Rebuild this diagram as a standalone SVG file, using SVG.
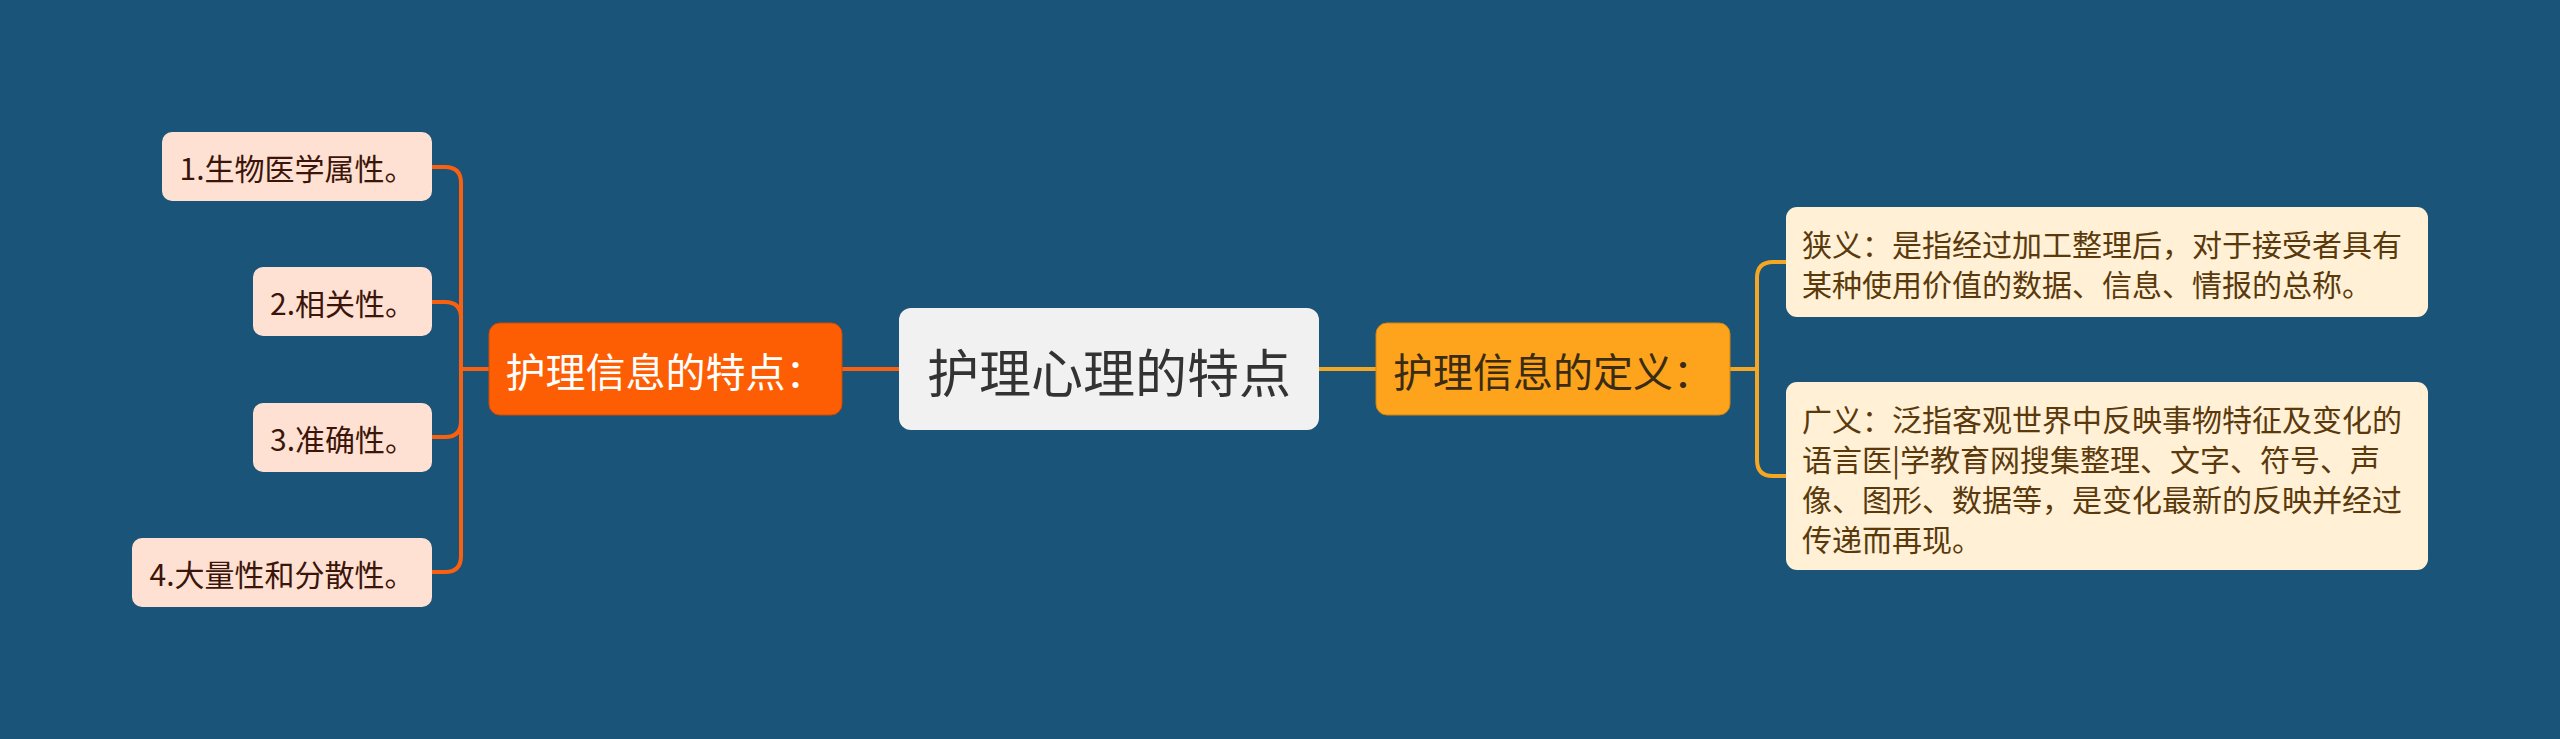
<svg xmlns="http://www.w3.org/2000/svg" width="2560" height="739" viewBox="0 0 2560 739">
<style>
text{font-family:"Noto Sans CJK SC","Noto Sans",sans-serif;dominant-baseline:central}
.leafL{fill:#ffe1d3}
.leafR{fill:#fff0d6}
.tL{font-size:30px;fill:#3b1509;text-anchor:middle}
.tR{font-size:30px;fill:#5a3a0c}
.conO{fill:none;stroke:#f9600f;stroke-width:4}
.conY{fill:none;stroke:#f5a623;stroke-width:4}
</style>
<rect width="2560" height="739" fill="#1a5479"/>
<g id="connectors">
<path class="conO" d="M899,369 H842"/>
<path class="conO" d="M489,369 H461 V183 Q461,167 445,167 H432"/>
<path class="conO" d="M489,369 H461 V318 Q461,302 445,302 H432"/>
<path class="conO" d="M489,369 H461 V421 Q461,437 445,437 H432"/>
<path class="conO" d="M489,369 H461 V556 Q461,572 445,572 H432"/>
<path class="conY" d="M1319,369 H1376"/>
<path class="conY" d="M1730,369 H1757 V278 Q1757,262 1773,262 H1786"/>
<path class="conY" d="M1730,369 H1757 V460 Q1757,476 1773,476 H1786"/>
</g>
<g id="center">
<rect x="899" y="308" width="420" height="122" rx="12" fill="#f1f1f1"/>
<text x="1109" y="370" font-size="52" fill="#333333" text-anchor="middle">护理心理的特点</text>
</g>
<g id="features">
<rect x="489" y="323" width="353" height="92" rx="11" fill="#fe5e03" stroke="#d04a05" stroke-width="1"/>
<text x="665.5" y="370" font-size="40" fill="#ffffff" text-anchor="middle">护理信息的特点：</text>
</g>
<g id="definition">
<rect x="1376" y="323" width="354" height="92" rx="11" fill="#fda41c" stroke="#d08410" stroke-width="1"/>
<text x="1553" y="370" font-size="40" fill="#3a2c14" text-anchor="middle">护理信息的定义：</text>
</g>
<g id="f1">
<rect class="leafL" x="162" y="132" width="270" height="69" rx="10"/>
<text class="tL" x="297" y="167">1.生物医学属性。</text>
</g>
<g id="f2">
<rect class="leafL" x="253" y="267" width="179" height="69" rx="10"/>
<text class="tL" x="342.5" y="302">2.相关性。</text>
</g>
<g id="f3">
<rect class="leafL" x="253" y="403" width="179" height="69" rx="10"/>
<text class="tL" x="342.5" y="438">3.准确性。</text>
</g>
<g id="f4">
<rect class="leafL" x="132" y="538" width="300" height="69" rx="10"/>
<text class="tL" x="282" y="573">4.大量性和分散性。</text>
</g>
<g id="d1">
<rect class="leafR" x="1786" y="207" width="642" height="110" rx="11"/>
<text class="tR" x="1802" y="243">狭义：是指经过加工整理后，对于接受者具有</text>
<text class="tR" x="1802" y="283">某种使用价值的数据、信息、情报的总称。</text>
</g>
<g id="d2">
<rect class="leafR" x="1786" y="382" width="642" height="188" rx="11"/>
<text class="tR" x="1802" y="418">广义：泛指客观世界中反映事物特征及变化的</text>
<text class="tR" x="1802" y="458">语言医|学教育网搜集整理、文字、符号、声</text>
<text class="tR" x="1802" y="498">像、图形、数据等，是变化最新的反映并经过</text>
<text class="tR" x="1802" y="538">传递而再现。</text>
</g>
</svg>
